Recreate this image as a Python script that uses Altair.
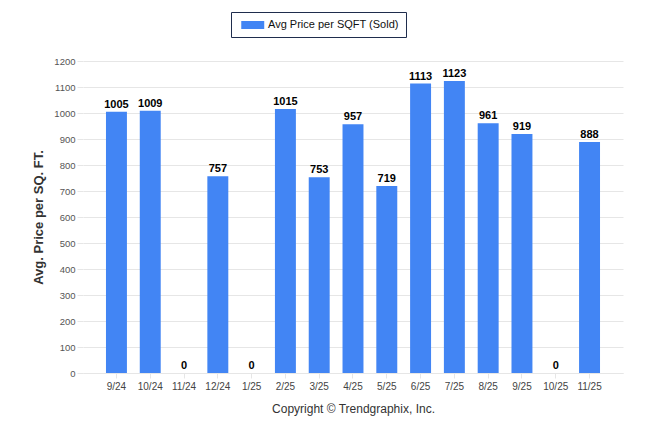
import altair as alt
import pandas as pd

months = ["9/24", "10/24", "11/24", "12/24", "1/25", "2/25", "3/25", "4/25",
          "5/25", "6/25", "7/25", "8/25", "9/25", "10/25", "11/25"]
values = [1005, 1009, 0, 757, 0, 1015, 753, 957, 719, 1113, 1123, 961, 919, 0, 888]
series_name = "Avg Price per SQFT (Sold)"
y_ticks = [0, 100, 200, 300, 400, 500, 600, 700, 800, 900, 1000, 1100, 1200]

df = pd.DataFrame({"month": months, "value": values, "series": series_name})

FONT = "Liberation Sans"

x_enc = alt.X(
    "month:N", sort=None,
    scale=alt.Scale(paddingInner=0.38, paddingOuter=0.68),
    axis=alt.Axis(
        title="Copyright \u00a9 Trendgraphix, Inc.",
        titleFont=FONT, titleFontSize=12, titleFontWeight="normal", titleColor="#333333",
        titlePadding=12,
        labelAngle=0, labelFont=FONT, labelFontSize=10, labelColor="#444444",
        labelPadding=3, tickColor="#e6e6e6", tickSize=5,
        domainColor="#e6e6e6", grid=False,
    ),
)
y_scale = alt.Scale(domain=[0, 1200], nice=False)

bars = alt.Chart(df).mark_bar(color="#4285F4").encode(
    x=x_enc,
    y=alt.Y(
        "value:Q", scale=y_scale,
        axis=alt.Axis(
            title="Avg. Price per SQ. FT.",
            titleFont=FONT, titleFontSize=13, titleFontWeight="bold", titleColor="#333333",
            titlePadding=8,
            values=y_ticks, tickCount=len(y_ticks), format="d", labelOverlap=False,
            labelFont=FONT, labelFontSize=9.5, labelColor="#555555", labelPadding=2,
            tickColor="#e6e6e6", tickSize=6, domain=False,
            grid=True, gridColor="#e6e6e6", gridWidth=1,
        ),
    ),
    color=alt.Color(
        "series:N",
        scale=alt.Scale(range=["#4285F4"]),
        legend=alt.Legend(
            title=None, orient="none", legendX=148, legendY=-49,
            direction="horizontal",
            padding=7, strokeColor="#1f2d4d", fillColor="white",
            symbolType="M-0.478,-0.7H3.522V0.7H-0.478Z", symbolSize=132,
            symbolStrokeWidth=0, symbolOpacity=1,
            labelFont=FONT, labelFontSize=11, labelColor="#111111", labelOffset=18,
        ),
    ),
)

labels = alt.Chart(df).mark_text(
    font=FONT, fontSize=11, fontWeight="bold", color="#000000",
    baseline="alphabetic", dy=-4,
).encode(
    x=alt.X("month:N", sort=None),
    y=alt.Y("value:Q", scale=y_scale),
    text=alt.Text("value:Q"),
)

chart = (bars + labels).properties(
    width=540, height=312,
    autosize=alt.AutoSizeParams(type="none"),
    padding={"left": 75, "top": 53, "right": 15, "bottom": 45},
).configure_view(stroke=None)

chart.save("out.html", embed_options={"renderer": "svg", "actions": False})
